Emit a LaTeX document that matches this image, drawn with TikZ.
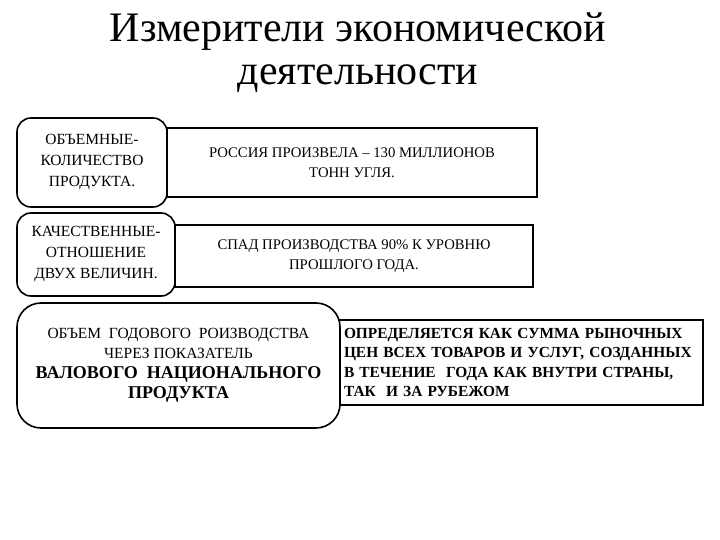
\documentclass[tikz,border=0pt]{standalone}
\usepackage{fontspec}
\setmainfont{Liberation Serif}
\begin{document}
\begin{tikzpicture}[x=1pt,y=-1pt,
  rbox/.style={draw=black, line width=1.6pt, fill=white, rounded corners=14pt, align=center, inner sep=2pt},
  sbox/.style={draw=black, line width=1.6pt, fill=white, align=center, inner sep=3pt},
  ttl/.style={font=\fontsize{42}{44}\selectfont, anchor=base, inner sep=0pt},
  ltxt/.style={font=\fontsize{15.5}{21}\selectfont},
  txt/.style={font=\fontsize{14.7}{20}\selectfont}]
\useasboundingbox (0,0) rectangle (720,540);
\node[ttl] (title1) at (358,42) {Измерители экономической};
\node[ttl] (title2) at (358,85) {деятельности};
% rectangles first
\node[sbox, txt, minimum width=370pt, minimum height=69pt] (r1) at (352,162.5) {РОССИЯ ПРОИЗВЕЛА – 130 МИЛЛИОНОВ\\ТОНН УГЛЯ.};
\node[sbox, txt, minimum width=358pt, minimum height=62pt] (r2) at (354,256) {СПАД ПРОИЗВОДСТВА 90\% К УРОВНЮ\\ПРОШЛОГО ГОДА.};
\node[sbox, font=\bfseries\fontsize{15.4}{19.5}\selectfont, minimum width=364pt, minimum height=85pt, text width=354pt, align=left, inner xsep=5pt, inner ysep=3pt] (r3) at (521,362.5) {ОПРЕДЕЛЯЕТСЯ КАК СУММА РЫНОЧНЫХ\\ЦЕН ВСЕХ ТОВАРОВ И УСЛУГ, СОЗДАННЫХ\\В ТЕЧЕНИЕ\ \ ГОДА КАК ВНУТРИ СТРАНЫ,\\ТАК\ \ И ЗА РУБЕЖОМ};
% rounded boxes
\node[rbox, ltxt, minimum width=150pt, minimum height=89pt] (b1) at (92,162.5) {ОБЪЕМНЫЕ-\\КОЛИЧЕСТВО\\ПРОДУКТА.};
\node[rbox, ltxt, minimum width=158pt, minimum height=83pt] (b2) at (96,254.5) {КАЧЕСТВЕННЫЕ-\\ОТНОШЕНИЕ\\ДВУХ ВЕЛИЧИН.};
\node[rbox, rounded corners=24pt, minimum width=323pt, minimum height=125pt, font=\fontsize{15.5}{20}\selectfont] (b3) at (178.5,365.5) {ОБЪЕМ\ \ ГОДОВОГО\ \ РОИЗВОДСТВА\\ЧЕРЕЗ ПОКАЗАТЕЛЬ\\[0pt]\bfseries\fontsize{18}{22}\selectfont ВАЛОВОГО\ \ НАЦИОНАЛЬНОГО\\\bfseries\fontsize{18}{22}\selectfont ПРОДУКТА};
\end{tikzpicture}
\end{document}
